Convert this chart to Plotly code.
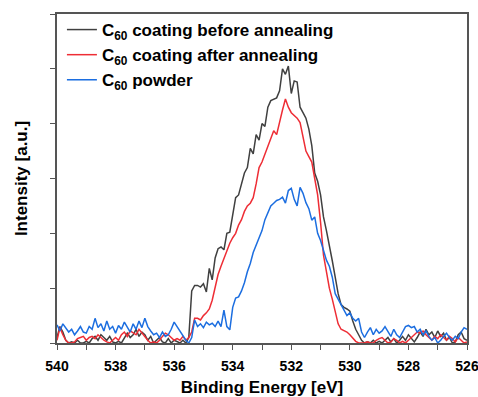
import plotly.graph_objects as go

energy = [round(540.0 - 0.1 * i, 1) for i in range(141)]

before = [
    0.10, 0.30, 0.20, 0.05, 0.00, 0.02, 0.00, 0.05, 0.00, 0.00,
    0.03, 0.00, 0.08, 0.12, 0.05, 0.15, 0.10, 0.05, 0.12, 0.02,
    0.00, 0.03, 0.00, 0.10, 0.18, 0.10, 0.15, 0.25, 0.12, 0.20,
    0.15, 0.05, 0.12, 0.00, 0.05, 0.10, 0.02, 0.00, 0.08, 0.00,
    0.05, 0.02, 0.00, 0.05, 0.00, 0.10, 0.95, 1.05, 1.05, 1.02,
    1.08, 0.93, 1.36, 1.15, 1.55, 1.72, 1.75, 1.70, 2.00, 2.02,
    2.36, 2.65, 2.70, 2.90, 3.10, 3.20, 3.55, 3.45, 3.80, 3.70,
    4.00, 3.95, 4.30, 4.42, 4.45, 4.47, 4.60, 5.00, 4.90, 5.05,
    4.55, 4.78, 4.76, 4.30, 4.20, 4.10, 3.90, 3.60, 3.10, 2.95,
    2.70, 2.30, 2.05, 1.80, 1.50, 1.20, 0.90, 0.70, 0.65, 0.62,
    0.58, 0.40, 0.25, 0.15, 0.05, 0.00, 0.02, 0.00, 0.05, 0.00,
    0.03, 0.00, 0.05, 0.10, 0.02, 0.08, 0.00, 0.05, 0.12, 0.05,
    0.15, 0.08, 0.02, 0.10, 0.20, 0.12, 0.25, 0.15, 0.20, 0.10,
    0.22, 0.12, 0.18, 0.05, 0.10, 0.00, 0.02, 0.15, 0.20, 0.08,
    0.05,
]

after = [
    0.05, 0.28, 0.15, 0.05, 0.00, 0.00, 0.02, 0.08, 0.10, 0.12,
    0.05, 0.10, 0.12, 0.08, 0.15, 0.10, 0.05, 0.02, 0.00, 0.05,
    0.10, 0.05, 0.15, 0.20, 0.12, 0.22, 0.18, 0.15, 0.25, 0.18,
    0.10, 0.05, 0.00, 0.02, 0.00, 0.05, 0.12, 0.18, 0.15, 0.10,
    0.05, 0.08, 0.05, 0.12, 0.05, 0.10, 0.20, 0.45, 0.45, 0.42,
    0.50, 0.55, 0.62, 0.78, 1.00, 1.25, 1.40, 1.55, 1.70, 1.82,
    1.92, 2.00, 2.15, 2.25, 2.40, 2.50, 2.55, 2.65, 2.90, 3.20,
    3.30, 3.45, 3.60, 3.75, 3.87, 3.80, 4.05, 4.25, 4.45, 4.30,
    4.20, 4.15, 4.10, 4.02, 3.75, 3.50, 3.40, 3.30, 3.00, 2.70,
    2.20, 1.60, 1.30, 1.00, 0.80, 0.55, 0.35, 0.25, 0.22, 0.20,
    0.15, 0.08, 0.03, 0.00, 0.00, 0.00, 0.02, 0.00, 0.00, 0.05,
    0.08, 0.10, 0.05, 0.00, 0.02, 0.08, 0.05, 0.00, 0.03, 0.00,
    0.05, 0.10, 0.15, 0.20, 0.18, 0.22, 0.15, 0.10, 0.05, 0.12,
    0.08, 0.15, 0.10, 0.05, 0.12, 0.08, 0.02, 0.10, 0.05, 0.00,
    0.02,
]

powder = [
    0.33, 0.22, 0.35, 0.28, 0.20, 0.25, 0.15, 0.22, 0.30, 0.20,
    0.18, 0.30, 0.25, 0.45, 0.28, 0.35, 0.22, 0.40, 0.25, 0.30,
    0.18, 0.32, 0.25, 0.38, 0.30, 0.20, 0.35, 0.25, 0.40, 0.28,
    0.45, 0.30, 0.22, 0.15, 0.18, 0.10, 0.20, 0.12, 0.15, 0.25,
    0.38, 0.30, 0.20, 0.12, 0.05, 0.00, 0.10, 0.42, 0.30, 0.35,
    0.28, 0.38, 0.33, 0.36, 0.30, 0.40, 0.30, 0.60, 0.30, 0.24,
    0.65, 0.82, 0.84, 0.95, 1.10, 1.30, 1.45, 1.65, 1.78, 1.90,
    2.05, 2.25, 2.36, 2.50, 2.55, 2.60, 2.62, 2.66, 2.55, 2.78,
    2.82, 2.62, 2.50, 2.84, 2.73, 2.56, 2.45, 2.24, 2.30, 2.00,
    1.87, 1.70, 1.51, 1.40, 1.20, 0.90, 0.80, 0.70, 0.60, 0.50,
    0.55, 0.45, 0.40, 0.45, 0.20, 0.10, 0.20, 0.28, 0.15, 0.25,
    0.18, 0.22, 0.30, 0.20, 0.12, 0.25, 0.15, 0.10, 0.20, 0.30,
    0.32, 0.28, 0.30, 0.20, 0.25, 0.15, 0.22, 0.12, 0.05, 0.10,
    0.00, 0.05, 0.12, 0.18, 0.10, 0.05, 0.12, 0.08, 0.20, 0.28,
    0.25,
]

names = [
    "C<sub>60</sub> coating before annealing",
    "C<sub>60</sub> coating after annealing",
    "C<sub>60</sub> powder",
]
colors = ["#404040", "#ee2d35", "#1c6ee0"]
series = [before, after, powder]

x_ticks = [540, 538, 536, 534, 532, 530, 528, 526]

fig = go.Figure()
for i, (name, col, ys) in enumerate(zip(names, colors, series)):
    fig.add_trace(go.Scatter(x=energy, y=ys, mode="lines", name=name,
                             line=dict(color=col, width=1.5)))

font_fam = "Arial, Liberation Sans, sans-serif"
fig.update_layout(
    width=478, height=397,
    margin=dict(l=57, r=11, t=14, b=54),
    paper_bgcolor="white", plot_bgcolor="white",
    font=dict(family=font_fam, color="black"),
    showlegend=True,
    legend=dict(x=0.012, y=1.006, xanchor="left", yanchor="top",
                bgcolor="rgba(0,0,0,0)",
                font=dict(family=font_fam, size=17, color="black", weight="bold")),
    xaxis=dict(range=[540, 526], tickvals=x_ticks,
               ticktext=[str(v) for v in x_ticks],
               ticks="outside", ticklen=5, tickwidth=1, tickcolor="#555",
               minor=dict(dtick=1, ticks="outside", ticklen=5, tickcolor="#555"),
               showline=True, linecolor="#555", linewidth=1.5, mirror=True,
               showgrid=False, zeroline=False, automargin=False,
               ticklabeloverflow="allow", ticklabelstandoff=4,
               tickfont=dict(size=14, weight="bold", family=font_fam),
               title=dict(text="Binding Energy [eV]", standoff=9,
                          font=dict(size=17, weight="bold", family=font_fam))),
    yaxis=dict(range=[0, 6], dtick=1, showticklabels=False,
               ticks="outside", ticklen=5, tickwidth=1, tickcolor="#555",
               showline=True, linecolor="#555", linewidth=1.5, mirror=True,
               showgrid=False, zeroline=False, automargin=False,
               title=dict(text="Intensity [a.u.]", standoff=18,
                          font=dict(size=17, weight="bold", family=font_fam))),
)

fig.write_html("out.html")
